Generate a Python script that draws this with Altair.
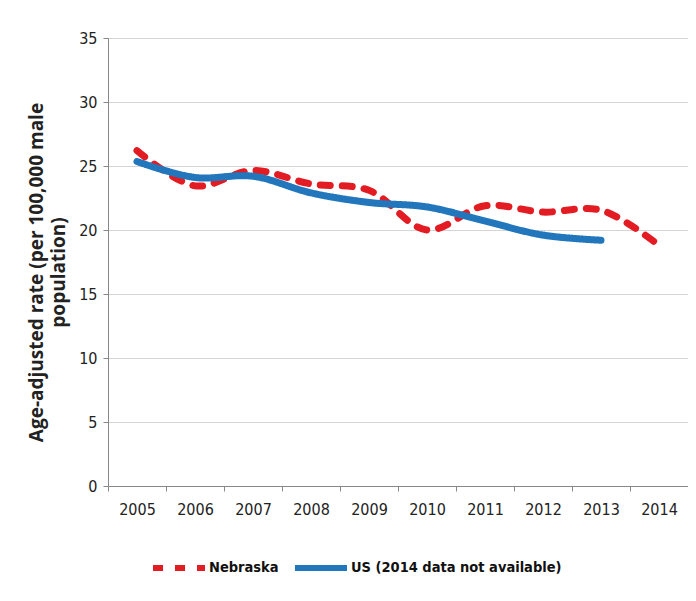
import altair as alt
import pandas as pd

years = [2005, 2006, 2007, 2008, 2009, 2010, 2011, 2012, 2013, 2014]
nebraska = [26.2, 23.45, 24.65, 23.6, 23.1, 20.0, 21.9, 21.4, 21.55, 18.8]
us = [25.35, 24.1, 24.2, 22.9, 22.15, 21.8, 20.7, 19.6, 19.2]

series_names = ["Nebraska", "US (2014 data not available)"]

rows = []
for y, v in zip(years, nebraska):
    rows.append({"year": str(y), "rate": v, "series": series_names[0]})
for y, v in zip(years, us):
    rows.append({"year": str(y), "rate": v, "series": series_names[1]})
df = pd.DataFrame(rows)

label_font = "Liberation Sans Narrow, DejaVu Sans Condensed, sans-serif"

chart = alt.Chart(df).mark_line(
    interpolate="catmull-rom", strokeCap="round", strokeWidth=7
).encode(
    x=alt.X(
        "year:O",
        title=None,
        sort=[str(y) for y in years],
        scale=alt.Scale(type="band", domain=[str(y) for y in years], paddingInner=0, paddingOuter=0),
        bandPosition=0.5,
        axis=alt.Axis(
            tickBand="extent", labelAngle=0, labelFont=label_font, labelFontSize=16,
            labelColor="#222222", domainColor="#888888", tickColor="#888888",
            tickSize=5, labelPadding=10, grid=False,
        ),
    ),
    y=alt.Y(
        "rate:Q",
        scale=alt.Scale(domain=[0, 35]),
        axis=alt.Axis(
            values=[0, 5, 10, 15, 20, 25, 30, 35],
            title=["Age-adjusted rate (per 100,000 male", "population)"],
            titleFont="Open Sans", titleFontSize=19, titleFontWeight="bold",
            titleColor="#222222", titleLineHeight=22, titlePadding=10, titleY=234,
            labelFont=label_font, labelFontSize=16, labelColor="#222222",
            labelPadding=6, domainColor="#888888", tickColor="#888888", tickSize=5,
            gridColor="#d4d4d4", gridWidth=1.2,
        ),
    ),
    color=alt.Color(
        "series:N",
        scale=alt.Scale(domain=series_names, range=["#e31b23", "#2176bc"]),
        legend=alt.Legend(
            title=None, orient="none", direction="horizontal",
            legendX=42, legendY=501,
            symbolType="stroke", symbolSize=2700, symbolStrokeWidth=6,
            labelFont=label_font, labelFontSize=14.5, labelFontWeight="bold",
            labelColor="#111111", columnPadding=4, labelOffset=1, labelLimit=400,
        ),
    ),
    strokeDash=alt.StrokeDash(
        "series:N",
        scale=alt.Scale(domain=series_names, range=[[10, 12], [1, 0]]),
        legend=None,
    ),
).properties(
    width=580,
    height=448,
    padding={"left": 100, "top": 30, "right": 0, "bottom": 110},
    autosize=alt.AutoSizeParams(type="none"),
).configure_view(
    stroke="#d4d4d4", strokeWidth=1.2
).configure(background="white")

chart.save("out.html", embed_options={"renderer": "svg", "actions": False})
